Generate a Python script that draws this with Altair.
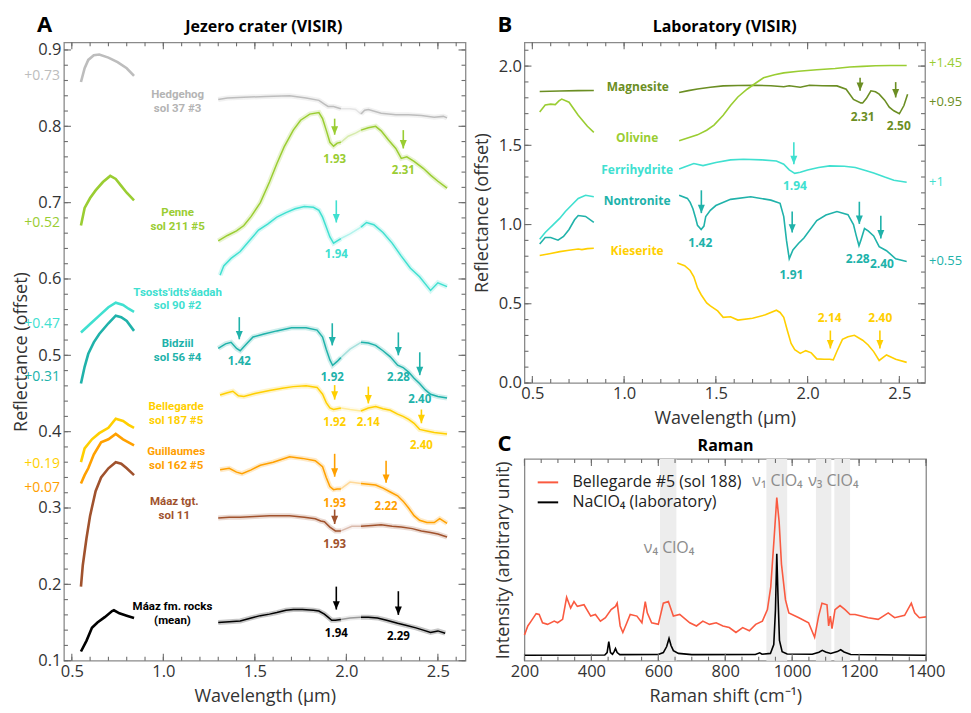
import altair as alt
import pandas as pd

FONT = "Open Sans"
LBL_FONT = "Roboto"
TXT = "#333333"
TICK = "#6e6e6e"

# ---------------- Panel A : Jezero crater (VISIR) ----------------
A_XDOM = [0.457, 2.651]
A_YDOM = [0.1, 0.91]

HEDGEHOG_VIS = [(0.55, 0.858), (0.57, 0.876), (0.59, 0.887), (0.62, 0.893), (0.65, 0.894), (0.70, 0.890),
                (0.75, 0.884), (0.80, 0.876), (0.84, 0.866)]
HEDGEHOG_IR = [(1.30, 0.835), (1.35, 0.837), (1.44, 0.838), (1.56, 0.839), (1.69, 0.840), (1.78, 0.837),
               (1.85, 0.834), (1.88, 0.829), (1.90, 0.826), (1.93, 0.826), (1.97, 0.823), (2.02, 0.823),
               (2.05, 0.822), (2.08, 0.816), (2.10, 0.821), (2.12, 0.822), (2.19, 0.817), (2.27, 0.815),
               (2.34, 0.815), (2.41, 0.814), (2.48, 0.812), (2.53, 0.813), (2.55, 0.811)]
PENNE_VIS = [(0.55, 0.670), (0.57, 0.693), (0.60, 0.706), (0.63, 0.716), (0.67, 0.727), (0.71, 0.735),
             (0.74, 0.731), (0.77, 0.722), (0.80, 0.713), (0.84, 0.703)]
PENNE_IR = [(1.30, 0.650), (1.35, 0.657), (1.40, 0.663), (1.44, 0.670), (1.48, 0.682), (1.53, 0.700),
            (1.58, 0.727), (1.62, 0.751), (1.66, 0.773), (1.71, 0.795), (1.75, 0.808), (1.80, 0.816),
            (1.85, 0.818), (1.87, 0.810), (1.89, 0.795), (1.91, 0.779), (1.93, 0.774), (1.95, 0.778),
            (1.97, 0.779), (2.01, 0.787), (2.05, 0.791), (2.08, 0.795), (2.12, 0.798), (2.16, 0.800),
            (2.19, 0.794), (2.23, 0.782), (2.27, 0.771), (2.30, 0.758), (2.33, 0.760), (2.37, 0.754),
            (2.42, 0.745), (2.46, 0.736), (2.50, 0.728), (2.55, 0.719)]
TSOSTS_VIS = [(0.55, 0.530), (0.60, 0.541), (0.65, 0.552), (0.70, 0.563), (0.74, 0.569), (0.78, 0.566),
              (0.81, 0.561), (0.84, 0.557)]
TSOSTS_IR = [(1.31, 0.605), (1.33, 0.617), (1.37, 0.627), (1.42, 0.636), (1.47, 0.650), (1.52, 0.664),
             (1.57, 0.672), (1.62, 0.681), (1.67, 0.687), (1.72, 0.692), (1.77, 0.695), (1.82, 0.694),
             (1.85, 0.690), (1.87, 0.681), (1.89, 0.668), (1.91, 0.655), (1.93, 0.647), (1.95, 0.650),
             (1.97, 0.653), (2.02, 0.659), (2.08, 0.668), (2.11, 0.674), (2.15, 0.671), (2.20, 0.661),
             (2.25, 0.647), (2.30, 0.630), (2.35, 0.614), (2.40, 0.603), (2.44, 0.591), (2.46, 0.585),
             (2.50, 0.595), (2.55, 0.590)]
BIDZIIL_VIS = [(0.55, 0.463), (0.57, 0.485), (0.59, 0.502), (0.62, 0.517), (0.65, 0.528), (0.70, 0.542),
               (0.74, 0.552), (0.77, 0.550), (0.80, 0.545), (0.84, 0.532)]
BIDZIIL_IR = [(1.30, 0.509), (1.34, 0.515), (1.37, 0.517), (1.40, 0.509), (1.42, 0.506), (1.45, 0.514),
              (1.49, 0.524), (1.55, 0.528), (1.62, 0.532), (1.70, 0.536), (1.78, 0.536), (1.84, 0.533),
              (1.87, 0.524), (1.89, 0.508), (1.91, 0.494), (1.925, 0.487), (1.95, 0.492), (1.97, 0.497),
              (2.02, 0.508), (2.08, 0.517), (2.12, 0.516), (2.16, 0.513), (2.20, 0.506), (2.24, 0.498),
              (2.28, 0.487), (2.31, 0.484), (2.34, 0.478), (2.37, 0.470), (2.40, 0.463), (2.43, 0.455),
              (2.46, 0.449), (2.50, 0.446), (2.55, 0.444)]
BELLEGARDE_VIS = [(0.55, 0.360), (0.57, 0.378), (0.61, 0.390), (0.65, 0.398), (0.70, 0.405), (0.74, 0.417),
                  (0.78, 0.414), (0.81, 0.409), (0.84, 0.405)]
BELLEGARDE_IR = [(1.31, 0.448), (1.35, 0.451), (1.38, 0.453), (1.41, 0.447), (1.44, 0.446), (1.50, 0.450),
                 (1.58, 0.454), (1.65, 0.457), (1.71, 0.459), (1.78, 0.460), (1.84, 0.458), (1.87, 0.449),
                 (1.89, 0.438), (1.91, 0.431), (1.93, 0.429), (1.95, 0.430), (1.97, 0.431), (2.02, 0.429),
                 (2.08, 0.427), (2.12, 0.431), (2.16, 0.433), (2.20, 0.430), (2.24, 0.428), (2.28, 0.423),
                 (2.31, 0.420), (2.34, 0.416), (2.37, 0.411), (2.40, 0.403), (2.44, 0.401), (2.48, 0.399),
                 (2.55, 0.397)]
GUILLAUMES_VIS = [(0.55, 0.332), (0.57, 0.343), (0.59, 0.352), (0.62, 0.370), (0.66, 0.386), (0.70, 0.390),
                  (0.74, 0.397), (0.78, 0.390), (0.81, 0.386), (0.84, 0.382)]
GUILLAUMES_IR = [(1.31, 0.350), (1.36, 0.352), (1.40, 0.347), (1.43, 0.345), (1.48, 0.350), (1.53, 0.356),
                 (1.60, 0.360), (1.69, 0.367), (1.76, 0.365), (1.83, 0.362), (1.87, 0.354), (1.89, 0.340),
                 (1.91, 0.328), (1.93, 0.324), (1.95, 0.325), (1.97, 0.325), (2.02, 0.334), (2.08, 0.332),
                 (2.12, 0.331), (2.16, 0.330), (2.20, 0.326), (2.24, 0.321), (2.28, 0.316), (2.31, 0.309),
                 (2.34, 0.300), (2.37, 0.290), (2.40, 0.284), (2.44, 0.281), (2.48, 0.281), (2.51, 0.286),
                 (2.55, 0.280)]
MAAZ_VIS = [(0.55, 0.197), (0.56, 0.225), (0.58, 0.260), (0.60, 0.290), (0.63, 0.322), (0.66, 0.340),
            (0.70, 0.352), (0.74, 0.360), (0.77, 0.358), (0.80, 0.352), (0.84, 0.343)]
MAAZ_IR = [(1.30, 0.287), (1.36, 0.288), (1.42, 0.288), (1.50, 0.289), (1.58, 0.290), (1.69, 0.290),
           (1.77, 0.288), (1.83, 0.286), (1.86, 0.283), (1.88, 0.282), (1.91, 0.275), (1.94, 0.270),
           (1.97, 0.270), (2.03, 0.276), (2.08, 0.276), (2.14, 0.277), (2.19, 0.278), (2.25, 0.276),
           (2.30, 0.275), (2.36, 0.273), (2.41, 0.270), (2.46, 0.268), (2.50, 0.266), (2.55, 0.262)]
MEAN_VIS = [(0.55, 0.112), (0.58, 0.126), (0.61, 0.143), (0.64, 0.150), (0.68, 0.157), (0.72, 0.165),
            (0.73, 0.166), (0.76, 0.162), (0.80, 0.159), (0.84, 0.156)]
MEAN_IR = [(1.30, 0.150), (1.36, 0.151), (1.42, 0.152), (1.48, 0.156), (1.53, 0.159), (1.58, 0.161),
           (1.62, 0.163), (1.67, 0.166), (1.71, 0.167), (1.76, 0.167), (1.82, 0.166), (1.85, 0.165),
           (1.88, 0.161), (1.90, 0.157), (1.92, 0.153), (1.94, 0.153), (1.97, 0.154), (2.02, 0.156),
           (2.08, 0.157), (2.12, 0.157), (2.17, 0.156), (2.22, 0.153), (2.28, 0.149), (2.33, 0.146),
           (2.38, 0.143), (2.42, 0.140), (2.46, 0.137), (2.50, 0.139), (2.54, 0.136)]

A_SERIES = [
    ("Hedgehog", "#bdbdbd", HEDGEHOG_VIS, HEDGEHOG_IR),
    ("Penne", "#9acd32", PENNE_VIS, PENNE_IR),
    ("Tsosts", "#40e0d0", TSOSTS_VIS, TSOSTS_IR),
    ("Bidziil", "#20b2aa", BIDZIIL_VIS, BIDZIIL_IR),
    ("Bellegarde", "#ffcf00", BELLEGARDE_VIS, BELLEGARDE_IR),
    ("Guillaumes", "#ffa000", GUILLAUMES_VIS, GUILLAUMES_IR),
    ("Maaz", "#a0522d", MAAZ_VIS, MAAZ_IR),
    ("Mean", "#000000", MEAN_VIS, MEAN_IR),
]

A_LABEL_TEXT = ["Hedgehog", "sol 37 #3", "Penne", "sol 211 #5", "Tsosts'idts'áadah", "sol 90 #2",
                "Bidziil", "sol 56 #4", "Bellegarde", "sol 187 #5", "Guillaumes", "sol 162 #5",
                "Máaz tgt.", "sol 11", "Máaz fm. rocks", "(mean)"]
A_LABEL_X = [1.078, 1.078, 1.078, 1.078, 1.078, 1.078, 1.078, 1.078, 1.07, 1.07, 1.07, 1.07,
             1.06, 1.06, 1.05, 1.05]
A_LABEL_Y = [0.8404, 0.8226, 0.6859, 0.6681, 0.5819, 0.5641, 0.5144, 0.4966, 0.4324, 0.4146,
             0.3734, 0.3556, 0.3079, 0.2901, 0.1699, 0.1521]
A_LABEL_C = ["#b4b4b4", "#b4b4b4", "#9acd32", "#9acd32", "#40e0d0", "#40e0d0", "#20b2aa", "#20b2aa",
             "#ffcf00", "#ffcf00", "#ffa000", "#ffa000", "#a0522d", "#a0522d", "#000000", "#000000"]

A_OFFSET_TEXT = ["+0.73", "+0.52", "+0.47", "+0.31", "+0.19", "+0.07"]
A_OFFSET_Y = [0.866, 0.673, 0.541, 0.472, 0.357, 0.326]
A_OFFSET_C = ["#bdbdbd", "#9acd32", "#40e0d0", "#20b2aa", "#ffcf00", "#ffa000"]

A_ARROW_X = [1.936, 2.311, 1.945, 1.415, 1.923, 2.284, 2.401, 1.936, 2.12, 2.41, 1.936, 2.217, 1.936, 1.945, 2.284]
A_ARROW_TOP = [0.810, 0.795, 0.703, 0.550, 0.542, 0.530, 0.504, 0.461, 0.459, 0.429, 0.371, 0.362, 0.298, 0.197, 0.191]
A_ARROW_BOT = [0.789, 0.771, 0.674, 0.521, 0.513, 0.500, 0.474, 0.442, 0.437, 0.411, 0.341, 0.333, 0.279, 0.167, 0.160]
A_ARROW_LBL = ["1.93", "2.31", "1.94", "1.42", "1.92", "2.28", "2.40", "1.92", "2.14", "2.40", "1.93", "2.22", "1.93", "1.94", "2.29"]
A_ARROW_LBL_Y = [0.756, 0.741, 0.631, 0.491, 0.470, 0.470, 0.442, 0.411, 0.411, 0.381, 0.305, 0.301, 0.251, 0.135, 0.131]
A_ARROW_C = ["#9acd32", "#9acd32", "#40e0d0", "#20b2aa", "#20b2aa", "#20b2aa", "#20b2aa", "#ffcf00", "#ffcf00",
             "#ffcf00", "#ffa000", "#ffa000", "#a0522d", "#000000", "#000000"]

# ---------------- Panel B : Laboratory (VISIR) ----------------
B_XDOM = [0.457, 2.64]
B_YDOM = [0.0, 2.15]

MAGNESITE_VIS = [(0.54, 1.840), (0.65, 1.843), (0.75, 1.845), (0.835, 1.846)]
MAGNESITE_IR = [(1.30, 1.833), (1.35, 1.845), (1.40, 1.855), (1.47, 1.866), (1.54, 1.875), (1.62, 1.878),
                (1.72, 1.879), (1.80, 1.876), (1.87, 1.870), (1.90, 1.876), (1.96, 1.867), (2.01, 1.879),
                (2.08, 1.876), (2.16, 1.875), (2.21, 1.854), (2.25, 1.790), (2.29, 1.768), (2.30, 1.767),
                (2.32, 1.795), (2.345, 1.844), (2.37, 1.838), (2.39, 1.823), (2.42, 1.785), (2.445, 1.741),
                (2.47, 1.718), (2.50, 1.699), (2.525, 1.751), (2.545, 1.823)]
OLIVINE_VIS = [(0.54, 1.710), (0.57, 1.755), (0.60, 1.760), (0.625, 1.757), (0.645, 1.780), (0.66, 1.792),
               (0.70, 1.772), (0.75, 1.690), (0.80, 1.620), (0.835, 1.582)]
OLIVINE_IR = [(1.30, 1.529), (1.40, 1.566), (1.45, 1.595), (1.49, 1.628), (1.54, 1.690), (1.58, 1.751),
              (1.62, 1.805), (1.67, 1.854), (1.72, 1.895), (1.76, 1.926), (1.82, 1.945), (1.87, 1.957),
              (1.95, 1.967), (2.05, 1.977), (2.15, 1.985), (2.23, 1.994), (2.30, 1.998), (2.37, 2.002),
              (2.45, 2.004), (2.54, 2.004)]
FERRI_VIS = [(0.54, 0.907), (0.57, 0.950), (0.61, 0.995), (0.65, 1.040), (0.68, 1.082), (0.72, 1.130),
             (0.75, 1.165), (0.79, 1.185), (0.835, 1.175)]
FERRI_IR = [(1.30, 1.350), (1.34, 1.368), (1.38, 1.385), (1.43, 1.372), (1.50, 1.392), (1.58, 1.408),
            (1.65, 1.412), (1.75, 1.408), (1.83, 1.401), (1.87, 1.381), (1.90, 1.345), (1.93, 1.323),
            (1.96, 1.330), (2.00, 1.344), (2.06, 1.360), (2.12, 1.370), (2.20, 1.368), (2.26, 1.360),
            (2.32, 1.340), (2.36, 1.326), (2.42, 1.300), (2.47, 1.280), (2.54, 1.267)]
NONTRO_VIS = [(0.54, 0.877), (0.57, 0.918), (0.60, 0.918), (0.64, 0.901), (0.67, 0.925), (0.70, 0.969),
              (0.73, 1.030), (0.75, 1.057), (0.79, 1.051), (0.835, 1.014)]
NONTRO_IR = [(1.30, 1.185), (1.345, 1.165), (1.36, 1.140), (1.375, 1.100), (1.39, 1.040), (1.40, 0.995),
             (1.42, 0.969), (1.435, 0.990), (1.445, 1.051), (1.47, 1.090), (1.50, 1.120), (1.58, 1.159),
             (1.69, 1.175), (1.80, 1.154), (1.85, 1.134), (1.87, 1.050), (1.885, 0.900), (1.90, 0.784),
             (1.92, 0.840), (1.95, 0.880), (1.98, 0.915), (2.05, 1.025), (2.10, 1.060), (2.16, 1.082),
             (2.22, 1.062), (2.25, 1.000), (2.265, 0.930), (2.28, 0.866), (2.29, 0.900), (2.31, 0.975),
             (2.33, 0.960), (2.36, 0.928), (2.39, 0.860), (2.43, 0.835), (2.48, 0.784), (2.54, 0.767)]
KIES_VIS = [(0.54, 0.804), (0.60, 0.817), (0.65, 0.829), (0.70, 0.838), (0.75, 0.846), (0.77, 0.842),
            (0.80, 0.848), (0.835, 0.850)]
KIES_IR = [(1.29, 0.757), (1.33, 0.740), (1.36, 0.710), (1.38, 0.670), (1.40, 0.600), (1.42, 0.557),
           (1.45, 0.505), (1.47, 0.486), (1.51, 0.455), (1.54, 0.414), (1.58, 0.418), (1.62, 0.397),
           (1.70, 0.409), (1.77, 0.430), (1.83, 0.459), (1.85, 0.445), (1.87, 0.414), (1.89, 0.330),
           (1.91, 0.249), (1.93, 0.210), (1.96, 0.187), (1.99, 0.204), (2.02, 0.190), (2.05, 0.152),
           (2.09, 0.150), (2.12, 0.150), (2.14, 0.146), (2.16, 0.200), (2.19, 0.275), (2.22, 0.292),
           (2.255, 0.301), (2.30, 0.270), (2.33, 0.240), (2.36, 0.198), (2.39, 0.142), (2.43, 0.177),
           (2.48, 0.150), (2.54, 0.130)]

B_SERIES = [
    ("Magnesite", "#6b8e23", MAGNESITE_VIS, MAGNESITE_IR),
    ("Olivine", "#9acd32", OLIVINE_VIS, OLIVINE_IR),
    ("Ferrihydrite", "#40e0d0", FERRI_VIS, FERRI_IR),
    ("Nontronite", "#20b2aa", NONTRO_VIS, NONTRO_IR),
    ("Kieserite", "#ffcf00", KIES_VIS, KIES_IR),
]
B_LABEL_TEXT = ["Magnesite", "Olivine", "Ferrihydrite", "Nontronite", "Kieserite"]
B_LABEL_X = [1.075, 1.071, 1.071, 1.071, 1.071]
B_LABEL_Y = [1.869, 1.549, 1.344, 1.146, 0.835]
B_LABEL_C = ["#6b8e23", "#9acd32", "#40e0d0", "#20b2aa", "#ffcf00"]

B_RIGHT_TEXT = ["+1.45", "+0.95", "+1", "+0.55"]
B_RIGHT_Y = [2.019, 1.772, 1.267, 0.767]
B_RIGHT_C = ["#9acd32", "#6b8e23", "#40e0d0", "#20b2aa"]

B_ARROW_X = [2.286, 2.48, 1.925, 1.421, 1.916, 2.282, 2.399, 2.124, 2.394]
B_ARROW_TOP = [1.926, 1.899, 1.520, 1.216, 1.082, 1.144, 1.056, 0.331, 0.331]
B_ARROW_BOT = [1.844, 1.802, 1.381, 1.072, 0.949, 1.004, 0.912, 0.218, 0.218]
B_ARROW_LBL = ["2.31", "2.50", "1.94", "1.42", "1.91", "2.28", "2.40", "2.14", "2.40"]
B_ARROW_LBL_X = [2.30, 2.497, 1.931, 1.415, 1.912, 2.273, 2.405, 2.12, 2.396]
B_ARROW_LBL_Y = [1.679, 1.622, 1.241, 0.881, 0.681, 0.784, 0.753, 0.407, 0.407]
B_ARROW_C = ["#6b8e23", "#6b8e23", "#40e0d0", "#20b2aa", "#20b2aa", "#20b2aa", "#20b2aa", "#ffcf00", "#ffcf00"]

# ---------------- Panel C : Raman ----------------
C_XDOM = [200, 1400]
C_YDOM = [0, 1]
C_NAMES = ["Bellegarde #5 (sol 188)", "NaClO₄ (laboratory)"]
C_COLORS = ["#fa5a40", "#000000"]
C_RED = [(200, 0.127), (210, 0.172), (220, 0.196), (235, 0.233), (244, 0.229), (254, 0.188), (269, 0.180),
         (289, 0.196), (299, 0.188), (314, 0.205), (326, 0.314), (338, 0.261), (348, 0.293), (358, 0.269),
         (378, 0.277), (398, 0.221), (412, 0.229), (427, 0.196), (442, 0.213), (459, 0.253), (472, 0.269),
         (477, 0.285), (486, 0.172), (494, 0.140), (506, 0.188), (516, 0.229), (536, 0.221), (551, 0.188),
         (561, 0.293), (567, 0.237), (580, 0.188), (600, 0.180), (615, 0.285), (630, 0.293), (645, 0.221),
         (664, 0.229), (694, 0.188), (714, 0.172), (733, 0.196), (753, 0.180), (773, 0.188), (793, 0.172),
         (812, 0.164), (832, 0.140), (852, 0.164), (872, 0.148), (891, 0.180), (911, 0.196), (926, 0.253),
         (936, 0.366), (946, 0.607), (954, 0.808), (961, 0.688), (968, 0.478), (980, 0.301), (990, 0.237),
         (1020, 0.213), (1049, 0.188), (1067, 0.116), (1079, 0.221), (1089, 0.285), (1104, 0.277),
         (1109, 0.172), (1114, 0.221), (1119, 0.159), (1128, 0.253), (1143, 0.273), (1158, 0.253),
         (1173, 0.229), (1188, 0.229), (1227, 0.213), (1257, 0.205), (1287, 0.237), (1306, 0.213),
         (1336, 0.225), (1356, 0.285), (1366, 0.237), (1380, 0.213), (1400, 0.217)]
C_BLACK = [(200, 0.027), (440, 0.028), (447, 0.040), (452, 0.095), (457, 0.040), (463, 0.032), (468, 0.045),
           (472, 0.060), (477, 0.040), (485, 0.030), (600, 0.031), (615, 0.040), (625, 0.070), (632, 0.110),
           (638, 0.075), (645, 0.050), (660, 0.036), (700, 0.030), (890, 0.031), (903, 0.039), (910, 0.032),
           (935, 0.036), (945, 0.080), (950, 0.250), (954, 0.530), (958, 0.300), (962, 0.100), (970, 0.045),
           (985, 0.033), (1060, 0.032), (1080, 0.042), (1090, 0.051), (1100, 0.043), (1115, 0.036),
           (1135, 0.045), (1145, 0.054), (1155, 0.043), (1175, 0.031), (1400, 0.027)]
C_BAND_X1 = [605, 923, 1071, 1126]
C_BAND_X2 = [654, 985, 1117, 1173]
C_NOTE_TEXT = ["ν₄ ClO₄", "ν₁ ClO₄", "ν₃ ClO₄"]
C_NOTE_X = [632, 956, 1123]
C_NOTE_Y = [0.559, 0.889, 0.889]

# ---------------- helpers ----------------
def xq(field, dom, axis):
    return alt.X(field, type="quantitative", scale=alt.Scale(domain=dom, nice=False, zero=False), axis=axis)


def yq(field, dom, axis):
    return alt.Y(field, type="quantitative", scale=alt.Scale(domain=dom, nice=False, zero=False), axis=axis)


def make_axis(title, values, fmt, labels=True):
    return alt.Axis(title=title, values=values, format=fmt, ticks=False, domain=False, grid=False,
                    labels=labels, labelFont=FONT, labelFontSize=16.5, labelColor=TXT, labelPadding=3,
                    labelFlush=False, titleFont=FONT, titleFontSize=18, titleFontWeight="normal",
                    titleColor=TXT, titlePadding=7)


def curves_df(series, light_gap):
    rows = []
    for name, color, vis, ir in series:
        for x, y in vis:
            rows.append(dict(x=x, y=y, seg=name + "-v", c=color, op=1.0, sw=2.6 if light_gap else 1.6, ir=0))
        for x, y in ir:
            if not light_gap:
                rows.append(dict(x=x, y=y, seg=name + "-i", c=color, op=1.0, sw=1.6, ir=1))
                continue
            if x <= 1.97:
                rows.append(dict(x=x, y=y, seg=name + "-i1", c=color, op=1.0, sw=1.5, ir=1))
            if 1.97 <= x <= 2.08:
                rows.append(dict(x=x, y=y, seg=name + "-i2", c=color, op=0.35, sw=1.5, ir=1))
            if x >= 2.08:
                rows.append(dict(x=x, y=y, seg=name + "-i3", c=color, op=1.0, sw=1.5, ir=1))
    return pd.DataFrame(rows)


def tick_layers(X, Y, W, H, xmaj, xmin, ymaj=None, ymin=None):
    layers = []
    for vals, L in ((xmin, 4), (xmaj, 7)):
        m = alt.Chart(pd.DataFrame({"x": vals})).mark_rule(color=TICK, strokeWidth=1.1)
        layers.append(m.encode(x=X, y=alt.value(H), y2=alt.value(H - L)))
        layers.append(m.encode(x=X, y=alt.value(0), y2=alt.value(L)))
    if ymaj is not None:
        for vals, L in ((ymin, 4), (ymaj, 7)):
            m = alt.Chart(pd.DataFrame({"y": vals})).mark_rule(color=TICK, strokeWidth=1.1)
            layers.append(m.encode(y=Y, x=alt.value(0), x2=alt.value(L)))
            layers.append(m.encode(y=Y, x=alt.value(W), x2=alt.value(W - L)))
    return layers


def arrows(X, Ytop, xs, tops, bots, colors):
    d = pd.DataFrame({"x": xs, "y": tops, "y2": bots, "c": colors})
    rule = alt.Chart(d).mark_rule(strokeWidth=1.6).encode(
        x=X, y=Ytop, y2=alt.Y2("y2"), color=alt.Color("c:N", scale=None))
    d2 = pd.DataFrame({"x": xs, "y": bots, "c": colors})
    head = alt.Chart(d2).mark_point(shape="M-1,-2.4L1,-2.4L0,0Z", filled=True, size=49, opacity=1,
                                     strokeWidth=0).encode(x=X, y=Ytop, color=alt.Color("c:N", scale=None))
    return [rule, head]


def texts(X, Y, xs, ys, ts, cs, size=11.5, weight="bold", align="center", dx=0, dy=0, baseline="middle",
          font=FONT):
    d = pd.DataFrame({"x": xs, "y": ys, "t": ts, "c": cs})
    return alt.Chart(d).mark_text(font=font, fontSize=size, fontWeight=weight, align=align, dx=dx, dy=dy,
                                  baseline=baseline).encode(
        x=X, y=Y, text="t:N", color=alt.Color("c:N", scale=None))


def panel_heading(X, Y, xmin, ytop, xmid, letter, title, dy=-10):
    return [
        texts(X, Y, [xmin], [ytop], [letter], ["#000000"], size=22, align="left", dx=-27, dy=dy,
              baseline="alphabetic"),
        texts(X, Y, [xmid], [ytop], [title], ["#000000"], size=16, align="center", dy=dy,
              baseline="alphabetic"),
    ]


def line_layers(df, X, Y, halo):
    layers = []
    if halo:
        layers.append(alt.Chart(df).transform_filter("datum.ir == 1").transform_calculate(
            hop="datum.op * 0.22").mark_line(strokeWidth=5).encode(
            x=X, y=Y, detail="seg:N", color=alt.Color("c:N", scale=None),
            opacity=alt.Opacity("hop:Q", scale=None)))
    layers.append(alt.Chart(df).mark_line().encode(
        x=X, y=Y, detail="seg:N", color=alt.Color("c:N", scale=None),
        opacity=alt.Opacity("op:Q", scale=None), strokeWidth=alt.StrokeWidth("sw:Q", scale=None)))
    return layers


XT_MAJ = [0.5, 1.0, 1.5, 2.0, 2.5]
XT_MIN = [round(0.5 + 0.1 * i, 1) for i in range(22)]

# ---------------- Panel A chart ----------------
WA, HA = 402, 619
axA_x = make_axis("Wavelength (µm)", XT_MAJ, ".1f")
axA_y = make_axis("Reflectance (offset)", [0.1, 0.2, 0.3, 0.4, 0.5, 0.6, 0.7, 0.8, 0.9], ".1f")
XA = xq("x", A_XDOM, axA_x)
YA = yq("y", A_YDOM, axA_y)
dfA = curves_df(A_SERIES, True)
layersA = line_layers(dfA, XA, YA, True)
layersA += arrows(XA, YA, A_ARROW_X, A_ARROW_TOP, A_ARROW_BOT, A_ARROW_C)
layersA.append(texts(XA, YA, A_ARROW_X, A_ARROW_LBL_Y, A_ARROW_LBL, A_ARROW_C))
layersA.append(texts(XA, YA, A_LABEL_X, A_LABEL_Y, A_LABEL_TEXT, A_LABEL_C, size=11.5, font=LBL_FONT))
layersA.append(texts(XA, YA, [A_XDOM[0]] * len(A_OFFSET_Y), A_OFFSET_Y, A_OFFSET_TEXT, A_OFFSET_C,
                     size=14, weight="normal", align="right", dx=-4))
layersA += tick_layers(XA, YA, WA, HA, XT_MAJ, XT_MIN,
                       [0.1, 0.2, 0.3, 0.4, 0.5, 0.6, 0.7, 0.8, 0.9],
                       [round(0.1 + 0.02 * i, 2) for i in range(41)])
layersA += panel_heading(XA, YA, A_XDOM[0], A_YDOM[1], 1.549, "A", "Jezero crater (VISIR)")
chartA = alt.layer(*layersA).properties(width=WA, height=HA)

# ---------------- Panel B chart ----------------
WB, HB = 401, 341
axB_x = make_axis("Wavelength (µm)", XT_MAJ, ".1f")
axB_y = make_axis("Reflectance (offset)", [0.0, 0.5, 1.0, 1.5, 2.0], ".1f")
XB = xq("x", B_XDOM, axB_x)
YB = yq("y", B_YDOM, axB_y)
dfB = curves_df(B_SERIES, False)
layersB = line_layers(dfB, XB, YB, False)
layersB += arrows(XB, YB, B_ARROW_X, B_ARROW_TOP, B_ARROW_BOT, B_ARROW_C)
layersB.append(texts(XB, YB, B_ARROW_LBL_X, B_ARROW_LBL_Y, B_ARROW_LBL, B_ARROW_C, size=12))
layersB.append(texts(XB, YB, B_LABEL_X, B_LABEL_Y, B_LABEL_TEXT, B_LABEL_C, size=12))
layersB.append(texts(XB, YB, [B_XDOM[1]] * len(B_RIGHT_Y), B_RIGHT_Y, B_RIGHT_TEXT, B_RIGHT_C,
                     size=13, weight="normal", align="left", dx=4))
layersB += tick_layers(XB, YB, WB, HB, XT_MAJ, XT_MIN, [0.0, 0.5, 1.0, 1.5, 2.0],
                       [round(0.1 * i, 1) for i in range(22)])
layersB += panel_heading(XB, YB, B_XDOM[0], B_YDOM[1], 1.548, "B", "Laboratory (VISIR)")
chartB = alt.layer(*layersB).properties(width=WB, height=HB)

# ---------------- Panel C chart ----------------
WC, HC = 402, 202
axC_x = make_axis("Raman shift (cm⁻¹)", [200, 400, 600, 800, 1000, 1200, 1400], "d")
axC_y = alt.Axis(title="Intensity (arbitrary unit)", labels=False, ticks=False, domain=False, grid=False,
                 titleFont=FONT, titleFontSize=18, titleFontWeight="normal", titleColor=TXT, titlePadding=12)
XC = xq("x", C_XDOM, axC_x)
YC = yq("y", C_YDOM, axC_y)
bands = alt.Chart(pd.DataFrame({"x": C_BAND_X1, "x2": C_BAND_X2})).mark_rect(color="#ededed").encode(
    x=XC, x2=alt.X2("x2"), y=alt.value(0), y2=alt.value(HC))
rowsC = [dict(x=x, y=y, name=C_NAMES[0]) for x, y in C_RED] + [dict(x=x, y=y, name=C_NAMES[1]) for x, y in C_BLACK]
dfC = pd.DataFrame(rowsC)
linesC = alt.Chart(dfC).mark_line(strokeWidth=1.6).encode(
    x=XC, y=YC,
    color=alt.Color("name:N", scale=alt.Scale(domain=C_NAMES, range=C_COLORS),
                    legend=alt.Legend(title=None, orient="top-left", offset=12, padding=0,
                                      labelFont=FONT, labelFontSize=16, labelColor="#222222",
                                      labelLimit=400, symbolType="stroke", symbolStrokeWidth=2,
                                      symbolSize=420, labelOffset=13, rowPadding=0)))
notes = texts(XC, YC, C_NOTE_X, C_NOTE_Y, C_NOTE_TEXT, ["#8c8c8c"] * 3, size=16, weight="normal")
layersC = [bands, linesC, notes]
layersC += tick_layers(XC, YC, WC, HC, [200, 400, 600, 800, 1000, 1200, 1400],
                       [200 + 50 * i for i in range(25)])
layersC += panel_heading(XC, YC, C_XDOM[0], C_YDOM[1], 801, "C", "Raman", dy=-8)
chartC = alt.layer(*layersC).properties(width=WC, height=HC)

right = alt.vconcat(chartB, chartC, spacing=76, bounds="flush").resolve_scale(
    color="independent").resolve_legend(color="independent")
chart = alt.hconcat(chartA, right, spacing=59, bounds="flush").resolve_scale(
    color="independent").resolve_legend(color="independent").properties(
    padding={"left": 4, "top": 5, "right": 0, "bottom": 0}
).configure_view(stroke="#8a8a8a", strokeWidth=1.3)

chart.save("out.html", embed_options={"renderer": "svg", "actions": False})
